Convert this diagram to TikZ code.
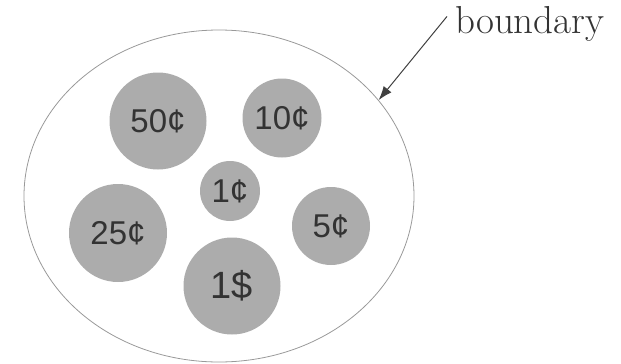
\documentclass[tikz,border=0pt]{standalone}
\usepackage{fontspec}
\newfontfamily\coinfont{Liberation Sans}
\usepackage{tikz}
\usetikzlibrary{shapes,arrows.meta,positioning,calc}

\begin{document}
\begin{tikzpicture}[
        x=1pt, y=-1pt,
        every node/.style={align=center},
        bound/.style={ellipse, draw=gray!80, line width=0.8pt, inner sep=0pt, minimum width=390pt, minimum height=332pt},
        coin/.style={circle, fill=gray!65, inner sep=0pt, text=black!80, font=\coinfont\fontsize{33}{35}\selectfont},
        tag/.style={inner sep=0pt, text=black!80, font=\fontsize{39}{42}\selectfont}
    ]
        \useasboundingbox (0,0) rectangle (621,364);
        % Nodes
        \node[bound] (bound) at (219,196) {};

        \node[coin, minimum size=97pt] (c50) at (158,121) {50¢};
        \node[coin, minimum size=79pt] (c10) at (282,118) {10¢};
        \node[coin, minimum size=60pt] (c1) at (230,191) {1¢};
        \node[coin, minimum size=98pt] (c25) at (118,233) {25¢};
        \node[coin, minimum size=78pt] (c5) at (331,226) {5¢};
        \node[coin, minimum size=97pt, font=\coinfont\fontsize{38}{40}\selectfont] (d1) at (232,286) {1\$};

        \node[tag, anchor=base west] (label) at (455,33) {boundary};

        % Connections
        \draw[-{Latex[length=14pt, width=10pt]}, black!75, line width=1pt] ([shift={(-8pt,7pt)}]label.west) -- (bound.31);

    \end{tikzpicture}
\end{document}
